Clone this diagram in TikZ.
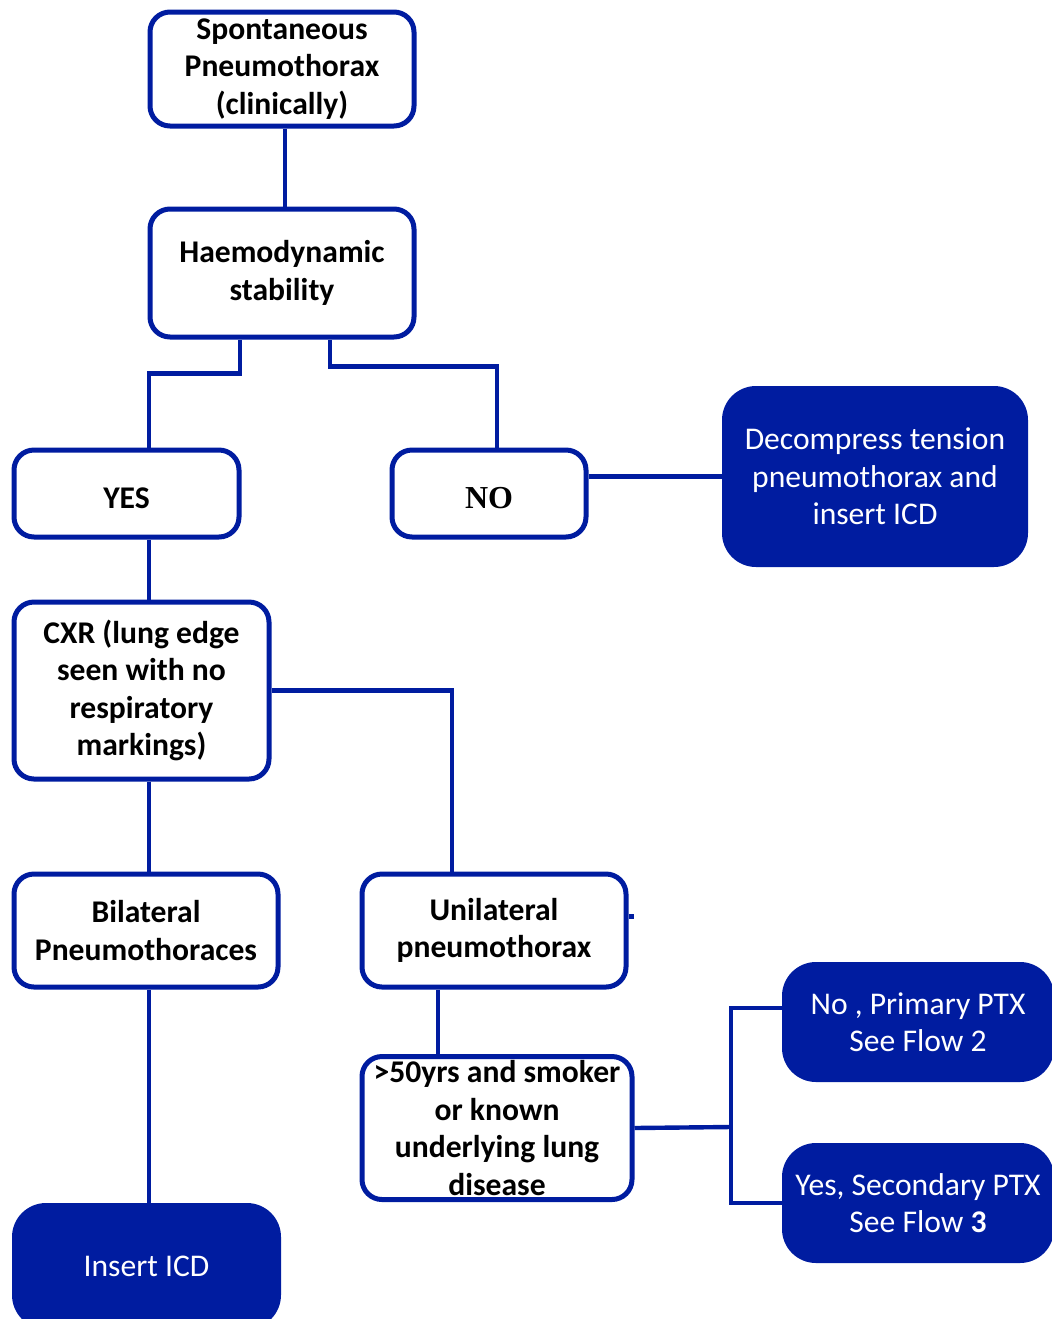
\documentclass[tikz,border=0pt]{standalone}
\usepackage{fontspec}
\setmainfont{Carlito}
\newfontfamily\timesbold{Liberation Serif}
\usetikzlibrary{calc}
\definecolor{flowblue}{RGB}{0,28,160}
\tikzset{
	outbox/.style={draw=flowblue, line width=2.5pt, rounded corners=10pt, fill=white,
		align=center, inner sep=2pt, font=\fontsize{15.8}{18.75}\selectfont\bfseries,
		execute at begin node={\rule{0pt}{15.5pt}}},
	fullbox/.style={fill=flowblue, rounded corners=17pt, align=center, text=white,
		inner sep=2pt, font=\fontsize{15.8}{18.75}\selectfont},
	link/.style={draw=flowblue, line width=2.2pt}
}

\begin{document}
\begin{tikzpicture}[x=0.5pt,y=-0.5pt]
	\useasboundingbox (0,0) rectangle (1051,1319);
	
	% left column
	\node[outbox, minimum width=132pt, minimum height=57pt] (spont) at (282,69) {Spontaneous\\Pneumothorax\\(clinically)};
	\node[outbox, minimum width=132pt, minimum height=64pt] (stab) at (282,273) {Haemodynamic\\stability};
	\node[outbox, minimum width=112.5pt, minimum height=43.5pt] (yes) at (126.5,493.5) {YES};
	\node[outbox, minimum width=97pt, minimum height=43.5pt, font=\fontsize{16}{18.75}\timesbold\bfseries] (no) at (489,493.5) {NO};
	\node[fullbox, minimum width=153pt, minimum height=90.5pt] (decomp) at (875,476.5) {Decompress tension\\pneumothorax and\\insert ICD};
	\node[outbox, minimum width=127.5pt, minimum height=88.5pt] (cxr) at (141.5,690.5) {CXR (lung edge\\seen with no\\respiratory\\markings)};
	\node[outbox, minimum width=132pt, minimum height=56.5pt] (bilat) at (146,930.5) {Bilateral\\Pneumothoraces};
	\node[outbox, minimum width=132pt, minimum height=56.5pt] (unilat) at (494,930.5) {Unilateral\\pneumothorax};
	\node[outbox, minimum width=135pt, minimum height=71.5pt, inner sep=-1.5pt, execute at begin node={}] (risk) at (497,1128) {>50yrs and smoker\\or known\\underlying lung\\disease};
	\node[fullbox, minimum width=136pt, minimum height=60pt] (primary) at (918,1022) {No , Primary PTX\\See Flow 2};
	\node[fullbox, minimum width=136pt, minimum height=60pt] (second) at (918,1203) {Yes, Secondary PTX\\See Flow \textbf{3}};
	\node[fullbox, minimum width=134.5pt, minimum height=63pt] (icd) at (146.5,1266) {Insert ICD};
	
	% connectors
	\draw[link] ([xshift=1.5pt]spont.south) -- ([xshift=1.5pt]spont.south |- stab.north);
	\draw[link] ([xshift=-21pt]stab.south) -- ++(0,34) -| ([xshift=11.25pt]yes.north);
	\draw[link] ([xshift=24pt]stab.south) -- ++(0,27) -| ([xshift=4pt]no.north);
	\draw[link] (decomp.west -| no.east) -- (decomp.west);
	\draw[link] ([xshift=11.25pt]yes.south) -- ([xshift=11.25pt]yes.south |- cxr.north);
	\draw[link] (cxr.east) -| ([xshift=-21pt]unilat.north);
	\draw[link] ([xshift=1.5pt]bilat.north |- cxr.south) -- ([xshift=1.5pt]bilat.north);
	\draw[link] ([xshift=1.5pt]bilat.south) -- ([xshift=1.5pt]bilat.south |- icd.north);
	\draw[link] ([yshift=7pt]unilat.east) -- ++(5,0);
	\draw[link] ([xshift=-28pt]unilat.south) -- ([xshift=-28pt]unilat.south |- risk.north);
	\coordinate (split) at (731,1127);
	\draw[link] (risk.east) -- (split);
	\draw[link] ([yshift=7pt]primary.west) -| (split) |- (second.west);
\end{tikzpicture}
\end{document}
